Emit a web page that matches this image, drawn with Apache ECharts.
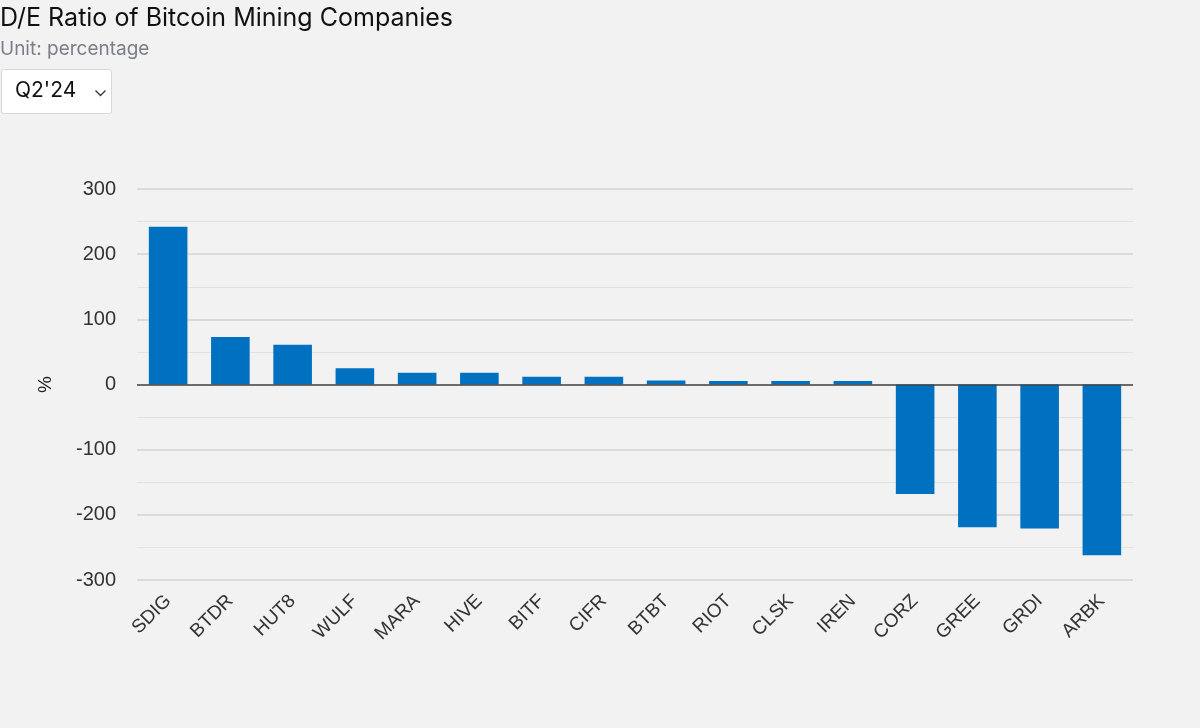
<!DOCTYPE html>
<html>
<head>
<meta charset="utf-8">
<script src="https://cdn.jsdelivr.net/npm/echarts@6/dist/echarts.min.js"></script>
<style>
html,body{margin:0;padding:0;background:#f2f2f2;}
#chart{width:1200px;height:728px;}
</style>
</head>
<body>
<div id="chart"></div>
<script>
const titleText = "D/E Ratio of Bitcoin Mining Companies";
const subtitleText = "Unit: percentage";
const periodLabel = "Q2'24";
const categories = ["SDIG","BTDR","HUT8","WULF","MARA","HIVE","BITF","CIFR","BTBT","RIOT","CLSK","IREN","CORZ","GREE","GRDI","ARBK"];
const deRatio = [242, 73, 61, 25, 18, 18, 12, 12, 6, 5.5, 5.5, 5.5, -168, -219, -221, -262];
const yTicks = [-300, -200, -100, 0, 100, 200, 300];

const chart = echarts.init(document.getElementById('chart'), null, {renderer: 'canvas'});
chart.setOption({
  backgroundColor: '#f2f2f2',
  animation: false,
  title: [{
    text: titleText,
    left: 0, top: 6, padding: 0,
    textStyle: {fontFamily: 'Inter', fontSize: 25, fontWeight: 'normal', color: '#111'}
  }, {
    text: subtitleText,
    left: 0, top: 40, padding: 0,
    textStyle: {fontFamily: 'Inter', fontSize: 19, fontWeight: 'normal', color: '#7a7f87'}
  }],
  graphic: [{
    type: 'rect', left: 1, top: 69,
    shape: {width: 110, height: 44, r: 2},
    style: {fill: '#ffffff', stroke: '#d8d8d8', lineWidth: 1}
  }, {
    type: 'text', left: 15, top: 80,
    style: {text: periodLabel, font: '21px Inter', fill: '#111'}
  }, {
    type: 'polyline', left: 93, top: 88,
    shape: {points: [[0,0],[5,5],[10,0]]},
    style: {stroke: '#333', lineWidth: 1.3, fill: null}
  }],
  grid: {left: 137, right: 67, top: 189, bottom: 148},
  xAxis: {
    type: 'category',
    data: categories,
    axisLine: {show: false},
    axisTick: {show: false},
    axisLabel: {rotate: 45, fontFamily: 'Liberation Sans', fontSize: 19, color: '#333', margin: 18}
  },
  yAxis: {
    type: 'value',
    min: yTicks[0], max: yTicks[yTicks.length - 1], interval: 100,
    name: '%', nameLocation: 'middle', nameGap: 82,
    nameTextStyle: {fontFamily: 'Liberation Sans', fontSize: 19, color: '#222'},
    axisLine: {show: false},
    axisTick: {show: false},
    axisLabel: {fontFamily: 'Liberation Sans', fontSize: 20, color: '#333', margin: 21},
    splitLine: {lineStyle: {color: '#d3d3d3', width: 1.5}},
    minorTick: {show: false, splitNumber: 2},
    minorSplitLine: {show: true, lineStyle: {color: '#e2e2e2', width: 1}}
  },
  series: [{
    type: 'bar',
    data: deRatio,
    barWidth: '62%',
    itemStyle: {color: '#0070c0'},
    markLine: {
      silent: true, symbol: 'none', label: {show: false},
      lineStyle: {color: '#444', width: 1.5, type: 'solid'},
      data: [{yAxis: 0}]
    }
  }]
});
</script>
</body>
</html>
